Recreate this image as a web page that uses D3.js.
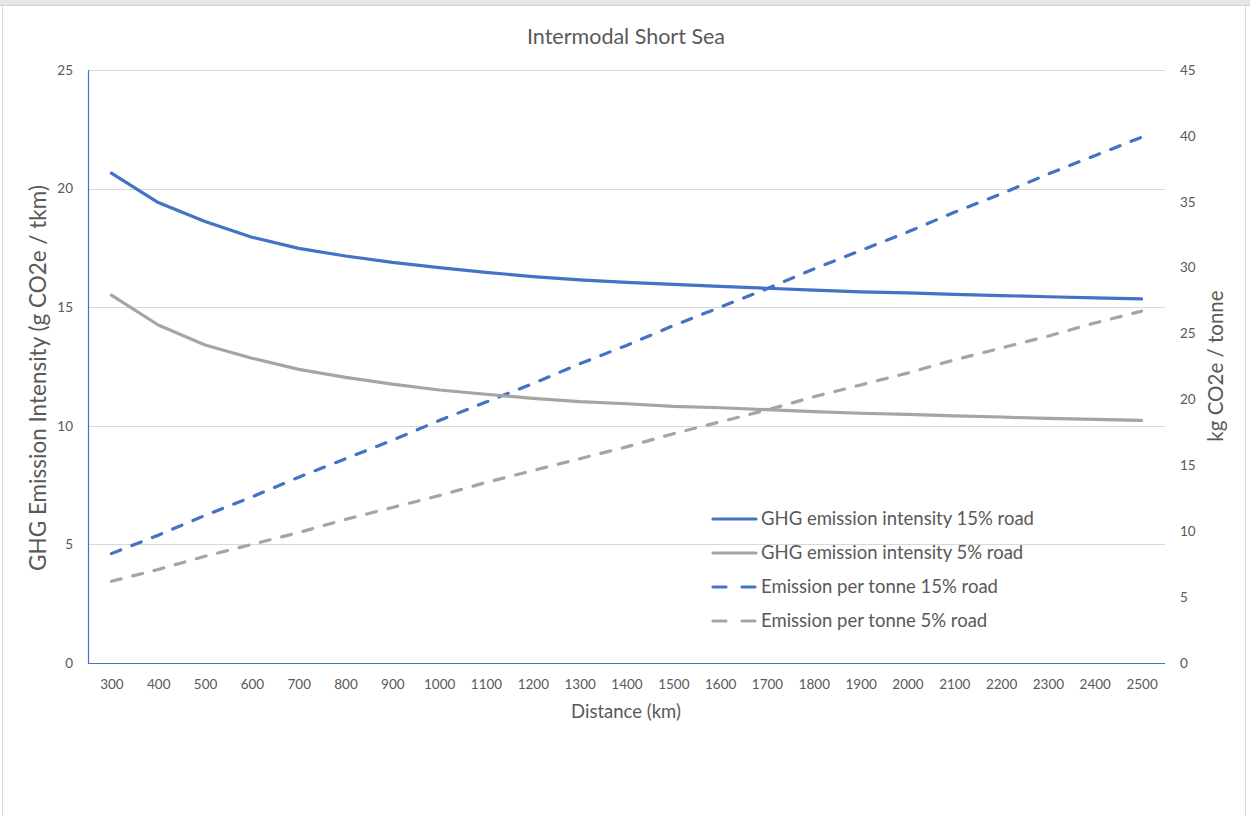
<!DOCTYPE html>
<html>
<head>
<meta charset="utf-8">
<script src="https://cdn.jsdelivr.net/npm/d3@7"></script>
<style>
  html, body { margin: 0; padding: 0; background: #ffffff; }
  svg { display: block; font-family: Lato, "Liberation Sans", sans-serif; }
</style>
</head>
<body>
<svg id="chart" width="1250" height="816"></svg>
<script>
// Distances (km) along the category axis
const distances = [300, 400, 500, 600, 700, 800, 900, 1000, 1100, 1200, 1300, 1400,
                   1500, 1600, 1700, 1800, 1900, 2000, 2100, 2200, 2300, 2400, 2500];

// GHG emission intensity, g CO2e / tkm (left axis)
const intensity15 = [20.65, 19.41, 18.61, 17.95, 17.48, 17.16, 16.89, 16.67, 16.47, 16.29, 16.15, 16.05,
                     15.96, 15.88, 15.80, 15.72, 15.65, 15.60, 15.54, 15.49, 15.44, 15.39, 15.35];
const intensity5  = [15.51, 14.25, 13.41, 12.85, 12.38, 12.04, 11.76, 11.51, 11.33, 11.16, 11.02, 10.93,
                     10.82, 10.76, 10.68, 10.60, 10.53, 10.48, 10.42, 10.37, 10.31, 10.27, 10.23];

// Emission per tonne, kg CO2e / tonne (right axis)
const perTonne15 = [8.3, 9.7, 11.2, 12.6, 14.1, 15.5, 16.9, 18.4, 19.8, 21.2, 22.7, 24.1,
                    25.6, 27.0, 28.4, 29.9, 31.3, 32.7, 34.2, 35.6, 37.1, 38.5, 39.9];
const perTonne5  = [6.2, 7.1, 8.1, 9.0, 9.9, 10.9, 11.8, 12.7, 13.7, 14.6, 15.5, 16.4,
                    17.4, 18.3, 19.2, 20.2, 21.1, 22.0, 23.0, 23.9, 24.8, 25.8, 26.7];

// Axis ticks
const leftTicks  = [0, 5, 10, 15, 20, 25];
const rightTicks = [0, 5, 10, 15, 20, 25, 30, 35, 40, 45];

const seriesNames = ["GHG emission intensity 15% road", "GHG emission intensity 5% road",
                     "Emission per tonne 15% road", "Emission per tonne 5% road"];

const BLUE = "#4472C4", GREY = "#A5A5A5", TEXT = "#595959", GRID = "#D9D9D9";

const svg = d3.select("#chart");
const plot = { left: 88, right: 1165, top: 70, bottom: 663 };

// Chart frame
svg.append("rect").attr("x", 0).attr("y", 0).attr("width", 1250).attr("height", 5).attr("fill", "#E6E6E6");
svg.append("line").attr("x1", 0).attr("x2", 1250).attr("y1", 5.5).attr("y2", 5.5).attr("stroke", "#D0D0D0");
svg.append("line").attr("x1", 2.5).attr("x2", 2.5).attr("y1", 5).attr("y2", 816).attr("stroke", "#D9D9D9");
svg.append("line").attr("x1", 1245.5).attr("x2", 1245.5).attr("y1", 5).attr("y2", 816).attr("stroke", "#D9D9D9");

// Scales
const x = d3.scalePoint().domain(distances).range([plot.left, plot.right]).padding(0.5);
const yL = d3.scaleLinear().domain([0, 25]).range([plot.bottom, plot.top]);
const yR = d3.scaleLinear().domain([0, 45]).range([plot.bottom, plot.top]);

// Horizontal gridlines from the primary axis
svg.append("g").selectAll("line").data(leftTicks.filter(d => d > 0)).join("line")
  .attr("x1", plot.left).attr("x2", plot.right)
  .attr("y1", d => Math.round(yL(d)) + 0.5).attr("y2", d => Math.round(yL(d)) + 0.5)
  .attr("stroke", GRID).attr("stroke-width", 1);

// Left axis
const axL = svg.append("g").attr("transform", `translate(${plot.left},0)`)
  .call(d3.axisLeft(yL).tickValues(leftTicks).tickSize(0).tickPadding(15));
axL.select(".domain").remove();
axL.selectAll("text").attr("fill", TEXT).style("font-size", "13.5px").style("font-family", "Lato, sans-serif");
svg.append("line").attr("x1", plot.left + 0.5).attr("x2", plot.left + 0.5)
  .attr("y1", plot.top).attr("y2", plot.bottom).attr("stroke", BLUE).attr("stroke-width", 1.2);

// Right axis
const axR = svg.append("g").attr("transform", `translate(${plot.right},0)`)
  .call(d3.axisRight(yR).tickValues(rightTicks).tickSize(0).tickPadding(15));
axR.select(".domain").remove();
axR.selectAll("text").attr("fill", TEXT).style("font-size", "13.5px").style("font-family", "Lato, sans-serif");

// Bottom axis
const axB = svg.append("g").attr("transform", `translate(0,${plot.bottom})`)
  .call(d3.axisBottom(x).tickSize(0).tickPadding(16));
axB.select(".domain").remove();
axB.selectAll("text").attr("fill", TEXT).style("font-size", "13.5px").style("font-family", "Lato, sans-serif");
svg.append("line").attr("x1", plot.left).attr("x2", plot.right)
  .attr("y1", plot.bottom + 0.5).attr("y2", plot.bottom + 0.5).attr("stroke", BLUE).attr("stroke-width", 1.2);

// Titles
svg.append("text").attr("x", 626).attr("y", 44).attr("text-anchor", "middle")
  .attr("fill", TEXT).style("font-size", "21.5px").text("Intermodal Short Sea");
svg.append("text").attr("x", 626).attr("y", 718).attr("text-anchor", "middle")
  .attr("fill", TEXT).style("font-size", "18.5px").text("Distance (km)");
svg.append("text").attr("transform", "translate(46,378) rotate(-90)").attr("text-anchor", "middle")
  .attr("fill", TEXT).style("font-size", "22.5px").text("GHG Emission Intensity (g CO2e / tkm)");
svg.append("text").attr("transform", "translate(1223,366) rotate(-90)").attr("text-anchor", "middle")
  .attr("fill", TEXT).style("font-size", "20.5px").text("kg CO2e / tonne");

// Series
const series = [
  { name: seriesNames[0], values: intensity15, y: yL, color: BLUE, dash: null },
  { name: seriesNames[1], values: intensity5,  y: yL, color: GREY, dash: null },
  { name: seriesNames[2], values: perTonne15,  y: yR, color: BLUE, dash: "10,12" },
  { name: seriesNames[3], values: perTonne5,   y: yR, color: GREY, dash: "10,12" }
];

// Dashed lines drawn beneath solid ones
[2, 3, 1, 0].forEach(i => {
  const s = series[i];
  const line = d3.line().x((d, j) => x(distances[j])).y(d => s.y(d));
  svg.append("path").datum(s.values)
    .attr("d", line).attr("fill", "none")
    .attr("stroke", s.color).attr("stroke-width", 3.2)
    .attr("stroke-linecap", "round").attr("stroke-linejoin", "round")
    .attr("stroke-dasharray", s.dash);
});

// Legend
const legend = svg.append("g");
series.forEach((s, i) => {
  const yy = 519 + i * 34;
  legend.append("line").attr("x1", 713).attr("x2", 756).attr("y1", yy).attr("y2", yy)
    .attr("stroke", s.color).attr("stroke-width", 3.2).attr("stroke-linecap", "round")
    .attr("stroke-dasharray", s.dash ? "13,16" : null);
  legend.append("text").attr("x", 761).attr("y", yy).attr("dy", "0.35em")
    .attr("fill", TEXT).style("font-size", "18.5px").text(s.name);
});
</script>
</body>
</html>
